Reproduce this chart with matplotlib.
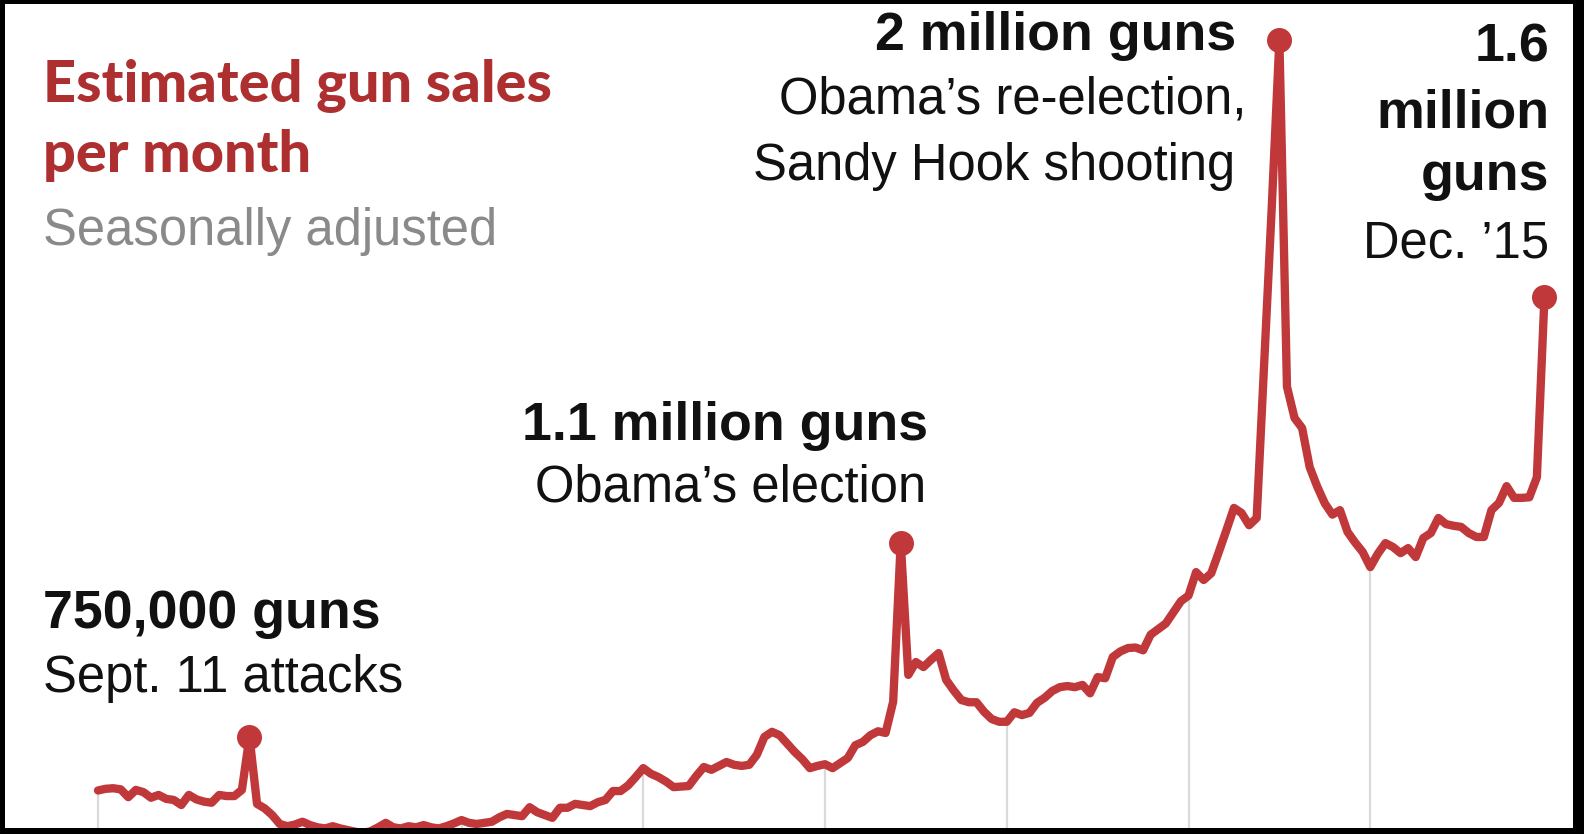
import numpy as np
import matplotlib.pyplot as plt

# Estimated gun sales per month, millions, seasonally adjusted (Jan 2000 - Dec 2015)
start_year = 2000
sales = [
    0.656, 0.659, 0.660, 0.658, 0.644, 0.657, 0.653, 0.643, 0.648, 0.641, 0.639, 0.630,  # 2000
    0.648, 0.640, 0.636, 0.634, 0.648, 0.646, 0.646, 0.657, 0.752, 0.632, 0.624, 0.612,  # 2001
    0.596, 0.592, 0.595, 0.600, 0.594, 0.590, 0.588, 0.592, 0.588, 0.585, 0.582, 0.580,  # 2002
    0.583, 0.590, 0.598, 0.590, 0.588, 0.592, 0.590, 0.594, 0.590, 0.588, 0.592, 0.597,  # 2003
    0.603, 0.598, 0.596, 0.598, 0.600, 0.608, 0.614, 0.612, 0.610, 0.626, 0.617, 0.612,  # 2004
    0.607, 0.625, 0.625, 0.632, 0.630, 0.628, 0.635, 0.639, 0.655, 0.655, 0.665, 0.680,  # 2005
    0.696, 0.686, 0.680, 0.672, 0.662, 0.663, 0.664, 0.682, 0.698, 0.693, 0.700, 0.707,  # 2006
    0.702, 0.700, 0.702, 0.720, 0.752, 0.761, 0.755, 0.740, 0.725, 0.712, 0.696, 0.700,  # 2007
    0.703, 0.696, 0.705, 0.714, 0.737, 0.743, 0.755, 0.762, 0.759, 0.815, 1.100, 0.863,  # 2008
    0.886, 0.877, 0.890, 0.902, 0.854, 0.835, 0.818, 0.814, 0.814, 0.797, 0.784, 0.779,  # 2009
    0.779, 0.796, 0.791, 0.795, 0.813, 0.822, 0.834, 0.841, 0.843, 0.841, 0.845, 0.830,  # 2010
    0.859, 0.857, 0.895, 0.905, 0.911, 0.912, 0.907, 0.935, 0.945, 0.955, 0.975, 0.995,  # 2011
    1.005, 1.047, 1.033, 1.045, 1.083, 1.122, 1.162, 1.153, 1.131, 1.144, 1.423, 1.703,  # 2012
    2.000, 1.379, 1.323, 1.305, 1.235, 1.200, 1.170, 1.150, 1.158, 1.119, 1.100, 1.083,  # 2013
    1.056, 1.080, 1.099, 1.092, 1.081, 1.090, 1.074, 1.108, 1.117, 1.144, 1.133, 1.130,  # 2014
    1.128, 1.117, 1.110, 1.110, 1.158, 1.171, 1.201, 1.180, 1.180, 1.181, 1.217, 1.540,  # 2015
]
grid_years = [2000, 2002, 2004, 2006, 2008, 2010, 2012, 2014]
peak_months = [20, 106, 156, 191]   # Sept. 2001, Nov. 2008, Jan. 2013, Dec. 2015

title_lines = ["Estimated gun sales", "per month"]
subtitle = "Seasonally adjusted"

red = '#c0383a'
title_red = '#ae2f30'

W, H = 1584, 834
fig = plt.figure(figsize=(W / 100, H / 100), dpi=100, facecolor='black')
ax = fig.add_axes([5 / W, 6 / H, 1568 / W, 824 / H])
ax.set_facecolor('white')
for s in ax.spines.values():
    s.set_visible(False)
ax.set_xticks([])
ax.set_yticks([])

x = start_year + np.arange(len(sales)) / 12
y = np.array(sales)
ax.set_xlim(start_year - 12.28 / 12, start_year + 194.77 / 12)
ax.set_ylim(0.5888, 2.0644)

# gridlines rise from the bottom up to the line
grid_idx = [(yr - start_year) * 12 for yr in grid_years]
ax.vlines(grid_years, 0.4, y[grid_idx], color='#dadada', lw=1.6, zorder=1)

ax.plot(x, y, color=red, lw=6, solid_joinstyle='round', solid_capstyle='round', zorder=2)
ax.plot(x[peak_months], y[peak_months], 'o', ms=18, color=red, mec='none', zorder=3)


def put(px, py, s, **kw):
    fig.text(px / W, 1 - py / H, s, va='baseline', **kw)


reg = dict(family='Liberation Sans', fontsize=36.5, color='#111111')
bold = dict(family='Liberation Sans', fontsize=38.7, fontweight='bold', color='#111111')
head = dict(family='Lato', fontsize=41.5, fontweight='black', color=title_red)

# title block
put(43, 102, title_lines[0], **head)
put(43, 172, title_lines[1], **head)
put(43, 245, subtitle, family='Liberation Sans', fontsize=36.5, color='#8a8a8a')

# annotations
put(43, 628, "750,000 guns", **bold)
put(43, 692, "Sept. 11 attacks", **reg)

put(928, 440, "1.1 million guns", ha='right', **bold)
put(926, 502, "Obama\u2019s election", ha='right', **reg)

put(1236, 50, "2 million guns", ha='right', **bold)
put(1246, 114, "Obama\u2019s re-election,", ha='right', **reg)
put(1235, 180, "Sandy Hook shooting", ha='right', **reg)

put(1549, 61, "1.6", ha='right', **bold)
put(1549, 127, "million", ha='right', **bold)
put(1549, 190, "guns", ha='right', **bold)
put(1549, 257, "Dec. \u201915", ha='right', **reg)

fig.savefig('out.png', dpi=100, facecolor='black')
